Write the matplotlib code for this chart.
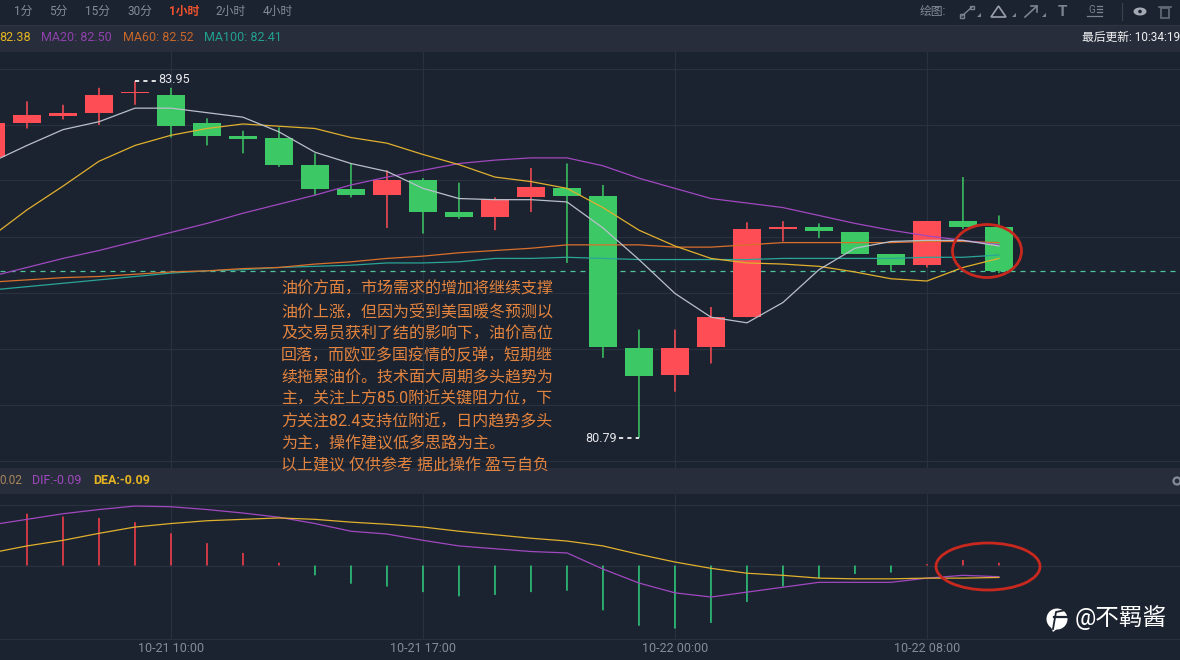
"""
Crude oil 1 hour candlestick chart with MA lines and MACD pane (10-21 to 10-22)
"""
import matplotlib
matplotlib.use("Agg")
import matplotlib.pyplot as plt
from matplotlib.patches import Circle, Ellipse, Polygon, Rectangle
import numpy as np

#########################################################
# Data
#########################################################

bar_index = list(range(29))

opens = [83.28, 83.58, 83.64, 83.67, 83.84, 83.83, 83.58, 83.46, 83.45, 83.21,
         82.99, 82.94, 83.07, 82.79, 82.75, 82.92, 83.00, 82.93, 81.59, 81.35,
         81.60, 81.86, 82.64, 82.66, 82.61, 82.42, 82.32, 82.71, 82.66]
highs = [83.58, 83.77, 83.74, 83.89, 83.95, 83.89, 83.62, 83.51, 83.54, 83.31,
         83.22, 83.16, 83.09, 83.05, 82.92, 83.18, 83.22, 83.03, 81.75, 81.75,
         81.95, 82.70, 82.71, 82.69, 82.61, 82.42, 82.71, 83.10, 82.76]
lows = [83.28, 83.53, 83.61, 83.56, 83.74, 83.45, 83.38, 83.31, 83.19, 82.94,
        82.92, 82.65, 82.60, 82.73, 82.63, 82.79, 82.34, 81.50, 80.79, 81.20,
        81.45, 81.86, 82.53, 82.56, 82.42, 82.27, 82.30, 82.64, 82.25]
closes = [83.58, 83.65, 83.67, 83.83, 83.85, 83.55, 83.46, 83.44, 83.21, 82.99,
          82.94, 83.07, 82.79, 82.75, 82.91, 83.01, 82.93, 81.60, 81.34, 81.59,
          81.86, 82.64, 82.66, 82.62, 82.42, 82.32, 82.71, 82.66, 82.27]

ma5 = [83.23, 83.38, 83.52, 83.59, 83.71, 83.71, 83.67, 83.63, 83.50, 83.32,
       83.22, 83.15, 83.00, 82.91, 82.90, 82.90, 82.88, 82.65, 82.37, 82.07,
       81.86, 81.81, 81.99, 82.28, 82.47, 82.53, 82.54, 82.54, 82.49]
ma10 = [82.57, 82.81, 83.02, 83.24, 83.38, 83.47, 83.53, 83.57, 83.55, 83.53,
        83.45, 83.40, 83.30, 83.21, 83.10, 83.06, 83.00, 82.83, 82.63, 82.49,
        82.38, 82.34, 82.33, 82.31, 82.26, 82.20, 82.18, 82.30, 82.38]
ma20 = [82.22, 82.30, 82.38, 82.45, 82.53, 82.61, 82.69, 82.78, 82.86, 82.94,
        83.03, 83.10, 83.16, 83.22, 83.25, 83.27, 83.27, 83.20, 83.09, 83.00,
        82.91, 82.87, 82.83, 82.76, 82.69, 82.63, 82.58, 82.54, 82.50]
ma60 = [82.17, 82.19, 82.21, 82.22, 82.24, 82.26, 82.27, 82.29, 82.30, 82.33,
        82.35, 82.38, 82.40, 82.43, 82.45, 82.47, 82.50, 82.50, 82.50, 82.48,
        82.48, 82.50, 82.52, 82.52, 82.52, 82.52, 82.53, 82.53, 82.52]
ma100 = [82.10, 82.13, 82.16, 82.19, 82.22, 82.25, 82.27, 82.28, 82.30, 82.31,
         82.32, 82.34, 82.34, 82.35, 82.38, 82.38, 82.39, 82.38, 82.37, 82.37,
         82.37, 82.37, 82.38, 82.38, 82.38, 82.38, 82.39, 82.39, 82.41]

macd_hist = [0.37, 0.37, 0.35, 0.34, 0.31, 0.23, 0.16, 0.09, 0.02, -0.07,
             -0.13, -0.15, -0.19, -0.22, -0.21, -0.19, -0.18, -0.32, -0.43, -0.45,
             -0.41, -0.26, -0.15, -0.09, -0.06, -0.05, 0.01, 0.04, 0.02]
dif = [0.29, 0.33, 0.37, 0.40, 0.425, 0.42, 0.40, 0.375, 0.345, 0.30,
       0.245, 0.225, 0.18, 0.14, 0.12, 0.10, 0.09, -0.025, -0.125, -0.195,
       -0.225, -0.19, -0.155, -0.12, -0.12, -0.12, -0.09, -0.07, -0.08]
dea = [0.09, 0.14, 0.18, 0.23, 0.275, 0.30, 0.32, 0.33, 0.34, 0.33,
       0.31, 0.295, 0.275, 0.245, 0.22, 0.195, 0.175, 0.14, 0.08, 0.025,
       -0.02, -0.055, -0.07, -0.09, -0.095, -0.095, -0.09, -0.09, -0.085]

last_price = 82.27
tick_bars = [5, 12, 19, 26]
tick_labels = ["10-21 10:00", "10-21 17:00", "10-22 00:00", "10-22 08:00"]
price_grid = [84.06, 83.56, 83.07, 82.57, 82.07, 81.58, 81.08, 80.59]
macd_grid = [0.43, 0.0, -0.525]

period_labels = ["1分", "5分", "15分", "30分", "1小时", "2小时", "4小时"]
# \uff0c is the full width comma of the original text
comment_lines = [
    "油价方面\uff0c市场需求的增加将继续支撑",
    "油价上涨\uff0c但因为受到美国暖冬预测以",
    "及交易员获利了结的影响下\uff0c油价高位",
    "回落\uff0c而欧亚多国疫情的反弹\uff0c短期继",
    "续拖累油价。技术面大周期多头趋势为",
    "主\uff0c关注上方85.0附近关键阻力位\uff0c下",
    "方关注82.4支持位附近\uff0c日内趋势多头",
    "为主\uff0c操作建议低多思路为主。",
    "以上建议 仅供参考 据此操作 盈亏自负",
]

#########################################################
# Chart variables
#########################################################

COLOR_BG = "#1c2330"
COLOR_BAND = "#272d3a"
COLOR_GRID = "#2a313e"
COLOR_UP = "#ff4d55"
COLOR_DOWN = "#3cc864"
COLOR_MA5 = "#b9c0cb"
COLOR_MA10 = "#e0b02e"
COLOR_MA20 = "#a048c0"
COLOR_MA60 = "#d9702c"
COLOR_MA100 = "#2aa598"
COLOR_TEXT = "#e2843f"
COLOR_MUTED = "#858c99"
COLOR_CIRCLE = "#c9281e"

plt.rcParams["font.family"] = ["Roboto", "Noto Sans CJK SC", "DejaVu Sans"]

X_LIM = (0.25, 33.03)

fig = plt.figure(figsize=(11.8, 6.6), dpi=100)
fig.patch.set_facecolor(COLOR_BG)


def pane(top_px, bottom_px):
    return fig.add_axes([0, 1 - bottom_px / 660, 1, (bottom_px - top_px) / 660])


#########################################################
# Background bands and toolbar (pixel coordinates)
#########################################################

back = fig.add_axes([0, 0, 1, 1], zorder=0)
back.set_xlim(0, 1180)
back.set_ylim(660, 0)
back.axis("off")
back.add_patch(Rectangle((0, 26), 1180, 26, color=COLOR_BAND, lw=0))
back.add_patch(Rectangle((0, 468), 1180, 26, color=COLOR_BAND, lw=0))
back.axhline(25, color="#2f3642", lw=0.8)

#########################################################
# Price pane
#########################################################

ax = pane(52, 468)
ax.set_zorder(1)
ax.patch.set_visible(False)

x = np.array(bar_index)
o = np.array(opens)
c = np.array(closes)
colors = [COLOR_UP if cl >= op else COLOR_DOWN for op, cl in zip(o, c)]

ax.vlines(x, lows, highs, colors=colors, lw=1.1, zorder=3, snap=False)
ax.bar(x, np.abs(c - o), bottom=np.minimum(o, c), width=0.8, color=colors,
       lw=0, zorder=3)
ax.axhline(last_price, color="#4ec49a", lw=0.9, ls=(0, (4, 4)), zorder=2)

for vals, col in [(ma100, COLOR_MA100), (ma60, COLOR_MA60), (ma20, COLOR_MA20),
                  (ma10, COLOR_MA10), (ma5, COLOR_MA5)]:
    ax.plot(x, vals, color=col, lw=0.9, zorder=4)

# high and low labels
hi = int(np.argmax(highs))
lo = int(np.argmin(lows))
ax.plot([hi, hi + 0.6], [highs[hi], highs[hi]], color="white", lw=1.2,
        ls=(0, (2.5, 2.5)), zorder=5)
ax.text(hi + 0.64, highs[hi] + 0.015, f"{highs[hi]:.2f}", color="#e6e8ec",
        fontsize=9, va="center", ha="left", zorder=5)
ax.plot([lo - 0.55, lo], [lows[lo], lows[lo]], color="white", lw=1.2,
        ls=(0, (2.5, 2.5)), zorder=5)
ax.text(lo - 0.6, lows[lo], f"{lows[lo]:.2f}", color="#e6e8ec",
        fontsize=9, va="center", ha="right", zorder=5)

ax.set_xlim(*X_LIM)
ax.set_ylim(80.525, 84.207)
ax.set_xticks(tick_bars)
ax.set_yticks(price_grid)
ax.tick_params(length=0, labelbottom=False, labelleft=False)
ax.grid(color=COLOR_GRID, lw=0.9, zorder=0)
ax.set_axisbelow(True)
for s in ax.spines.values():
    s.set_visible(False)

#########################################################
# MACD pane
#########################################################

ax2 = pane(494, 640)
ax2.set_zorder(1)
ax2.patch.set_visible(False)

hist_colors = ["#ff3f4a" if v >= 0 else "#2fd080" for v in macd_hist]
ax2.vlines(x, 0, macd_hist, colors=hist_colors, lw=1.1, zorder=3, snap=False)
ax2.plot(x, dif, color=COLOR_MA20, lw=0.9, zorder=4)
ax2.plot(x, dea, color=COLOR_MA10, lw=0.9, zorder=4)

ax2.set_xlim(*X_LIM)
ax2.set_ylim(-0.532, 0.511)
ax2.set_xticks(tick_bars)
ax2.set_xticklabels(tick_labels, fontsize=9, color=COLOR_MUTED)
ax2.set_yticks(macd_grid)
ax2.tick_params(length=0, labelleft=False, pad=1.5)
ax2.grid(color=COLOR_GRID, lw=0.9, zorder=0)
ax2.set_axisbelow(True)
for s in ax2.spines.values():
    s.set_visible(False)

#########################################################
# Overlay: texts, icons, hand drawn circles (pixel coordinates)
#########################################################

top = fig.add_axes([0, 0, 1, 1], zorder=5)
top.set_xlim(0, 1180)
top.set_ylim(660, 0)
top.axis("off")

# period buttons
for label, cx in zip(period_labels, [23.5, 58.5, 97, 139.5, 184, 231, 277.5]):
    col = "#f0522d" if label == "1小时" else COLOR_MUTED
    top.text(cx, 11.5, label, color=col, fontsize=8.5, ha="center", va="center",
             fontweight="bold" if label == "1小时" else "normal")

# MA legend row
top.text(31, 37.5, "82.38", color="#e6b422", fontsize=9, ha="right", va="center")
top.text(41, 37.5, "MA20: 82.50", color="#8f42ad", fontsize=9, va="center")
top.text(123, 37.5, "MA60: 82.52", color="#c8672a", fontsize=9, va="center")
top.text(204, 37.5, "MA100: 82.41", color="#22a090", fontsize=9, va="center")
top.text(1082, 37.5, "最后更新: 10:34:19", color="#f0f1f3", fontsize=8.5, va="center")

# MACD legend row
top.text(22, 480, "0.02", color="#a8865a", fontsize=8.5, ha="right", va="center")
top.text(32, 480, "DIF:-0.09", color="#a048c0", fontsize=9, va="center")
top.text(93, 480, "DEA:-0.09", color="#e6b422", fontsize=9, va="center",
         fontweight="bold")
top.add_patch(Circle((1177, 481), 3.5, fill=False, ec=COLOR_MUTED, lw=1.6))

# drawing tools
ICON = "#7b8290"
top.text(920, 12, "绘图:", color=COLOR_MUTED, fontsize=8.5, va="center")
top.plot([962, 972], [16, 7], color=ICON, lw=1)
top.add_patch(Rectangle((960, 14), 3.5, 3.5, fill=False, ec=ICON, lw=1))
top.add_patch(Rectangle((970, 5.5), 3.5, 3.5, fill=False, ec=ICON, lw=1))
top.add_patch(Polygon([(991, 17), (998.5, 6), (1006, 17)], fill=False, ec="#9aa0ab", lw=1.2))
top.plot([1025, 1037], [17, 6], color=ICON, lw=1.2)
top.plot([1031, 1037, 1037], [6, 6, 12], color=ICON, lw=1.2)
for tx in [979, 1014, 1044]:
    top.add_patch(Polygon([(tx - 2, 17), (tx + 2, 17), (tx + 2, 13)], color=ICON, lw=0))
top.text(1062, 12, "T", color=ICON, fontsize=11, ha="center", va="center",
         fontweight="bold")
top.text(1092, 10, "G", color=ICON, fontsize=7, ha="center", va="center")
for ly in [6, 9, 12]:
    top.plot([1097, 1102], [ly, ly], color=ICON, lw=0.9)
top.plot([1087, 1102], [16, 16], color=ICON, lw=0.9)
top.plot([1122, 1122], [3, 20], color="#3a414e", lw=0.9)
top.add_patch(Ellipse((1140, 11.5), 13, 8, color="#a4aab4", lw=0))
top.add_patch(Circle((1140, 11.5), 1.8, color=COLOR_BG, lw=0))
top.add_patch(Rectangle((1161, 8), 8, 10, fill=False, ec="#666d7a", lw=1.2))
top.plot([1159, 1171], [6.5, 6.5], color="#666d7a", lw=1.2)

# analyst comment
for line, ty in zip(comment_lines, [289, 311.5, 333.5, 355.5, 377.5, 399.5, 421.5, 443.5, 466]):
    top.text(281, ty, line, color=COLOR_TEXT, fontsize=11.5, va="center", ha="left")

# red circles
top.add_patch(Ellipse((987, 251), 69, 53, fill=False, ec=COLOR_CIRCLE, lw=2))
top.add_patch(Ellipse((988, 566.5), 104, 47, fill=False, ec=COLOR_CIRCLE, lw=2))

# watermark
top.add_patch(Circle((1057, 619), 10.5, color="white", lw=0))
top.add_patch(Polygon([(1051, 627), (1058, 628), (1053, 632)], color="white", lw=0))
top.plot([1054, 1067], [617, 617], color=COLOR_BG, lw=1.6)
top.plot([1053, 1056, 1066], [629, 612, 610], color=COLOR_BG, lw=1.3)
top.text(1075, 618, "@不羁酱", color="white", fontsize=17, va="center", ha="left")

#########################################################
# Saving to a file
#########################################################

fig.savefig("out.png", dpi=100, facecolor=fig.get_facecolor())
